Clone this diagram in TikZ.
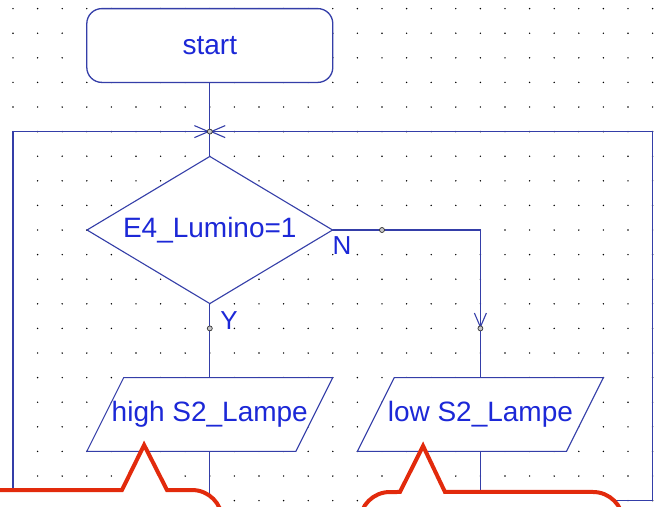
\documentclass[tikz,border=0pt]{standalone}
\usepackage{fontspec}
\setmainfont{Liberation Sans}
\usetikzlibrary{shapes.geometric,arrows.meta}
\definecolor{flowblue}{RGB}{52,62,168}
\definecolor{txtblue}{RGB}{28,40,215}
\definecolor{callred}{RGB}{226,42,12}
\tikzset{
  flow/.style={draw=flowblue,line width=1.3pt},
  barb/.style={-{Straight Barb[length=14pt,width=12pt,line width=1.1pt]}},
  term/.style={rectangle,rounded corners=15pt,flow,fill=white,minimum width=246pt,minimum height=73.8pt,font=\fontsize{28}{30}\selectfont,text=txtblue},
  decide/.style={diamond,flow,line width=1.1pt,fill=white,inner sep=0pt,aspect=1.6667,minimum width=246pt,minimum height=147.6pt,font=\fontsize{28}{30}\selectfont,text=txtblue},
  iobox/.style={flow,line width=1.1pt,fill=white},
  iotext/.style={font=\fontsize{28}{30}\selectfont,text=txtblue,inner sep=0pt},
  lbl/.style={font=\fontsize{26}{28}\selectfont,text=txtblue,inner sep=0pt},
  joint/.style={circle,draw=black!80,fill=gray!45,line width=0.7pt,inner sep=0pt,minimum size=5pt},
  callout/.style={draw=callred,line width=4pt,fill=white,line join=miter}
}

\begin{document}
\begin{tikzpicture}[x=24.6pt,y=24.6pt]
\useasboundingbox (-0.5285,-0.2195) rectangle (26.301,20.350);
% grid
\foreach \i in {0,...,26}{\foreach \j in {0,...,20}{\fill (\i,\j) circle (0.8pt);}}

\coordinate (join) at (8,15);
\coordinate (lcorner) at (0,15);
\coordinate (rcorner) at (26,15);
\coordinate (lfoot) at (0,-0.6);
\coordinate (rfoot) at (26,0);
\coordinate (hightop) at (8,5);
\coordinate (highbot) at (8,2);
\coordinate (lowtop) at (19,5);
\coordinate (lowbot) at (19,2);
\coordinate (lowin) at (19,7);

\node[term] (start) at (8,18.5) {start};
\node[decide] (dia) at (8,11) {E4\_Lumino=1};

% connectors
\draw[flow] (start.south) -- (join);
\draw[flow] (join) -- (dia.north);
\draw[flow] (dia.south) -- (hightop);
\draw[flow,barb] (dia.east) -| (lowin);
\draw[flow] (lowin) -- (lowtop);
\draw[flow,barb] (highbot) |- (lfoot) -- (lcorner) -- (join);
\draw[flow,barb] (lowbot) |- (rfoot) -- (rcorner) -- (join);

% output boxes
\draw[iobox] (4.5,5) -- (13,5) -- (11.5,2) -- (3,2) -- cycle;
\node[iotext] (high) at (8,3.5) {high S2\_Lampe};
\draw[iobox] (15.5,5) -- (24,5) -- (22.5,2) -- (14,2) -- cycle;
\node[iotext] (low) at (19,3.5) {low S2\_Lampe};

\node[lbl] (no) at (13.37,10.35) {N};
\node[lbl] (yes) at (8.78,7.3) {Y};

\node[joint] (j0) at (join) {};
\node[joint] (j1) at (15,11) {};
\node[joint] (j2) at (8,7) {};
\node[joint] (j3) at (lowin) {};

% callouts
\draw[callout] (-1,-1) -- (-1,0.43) -- (4.43,0.43) -- (5.33,2.26) -- (6.26,0.43) -- (7.28,0.43)
  arc[start angle=90,end angle=0,radius=30pt] -- (8.5,-1);
\draw[callout] (14.1,-1) -- (14.1,-0.87) arc[start angle=180,end angle=90,radius=30pt]
  -- (15.73,0.35) -- (16.67,2.22) -- (17.56,0.35) -- (23.58,0.35)
  arc[start angle=90,end angle=0,radius=30pt] -- (24.8,-1);
\end{tikzpicture}
\end{document}
